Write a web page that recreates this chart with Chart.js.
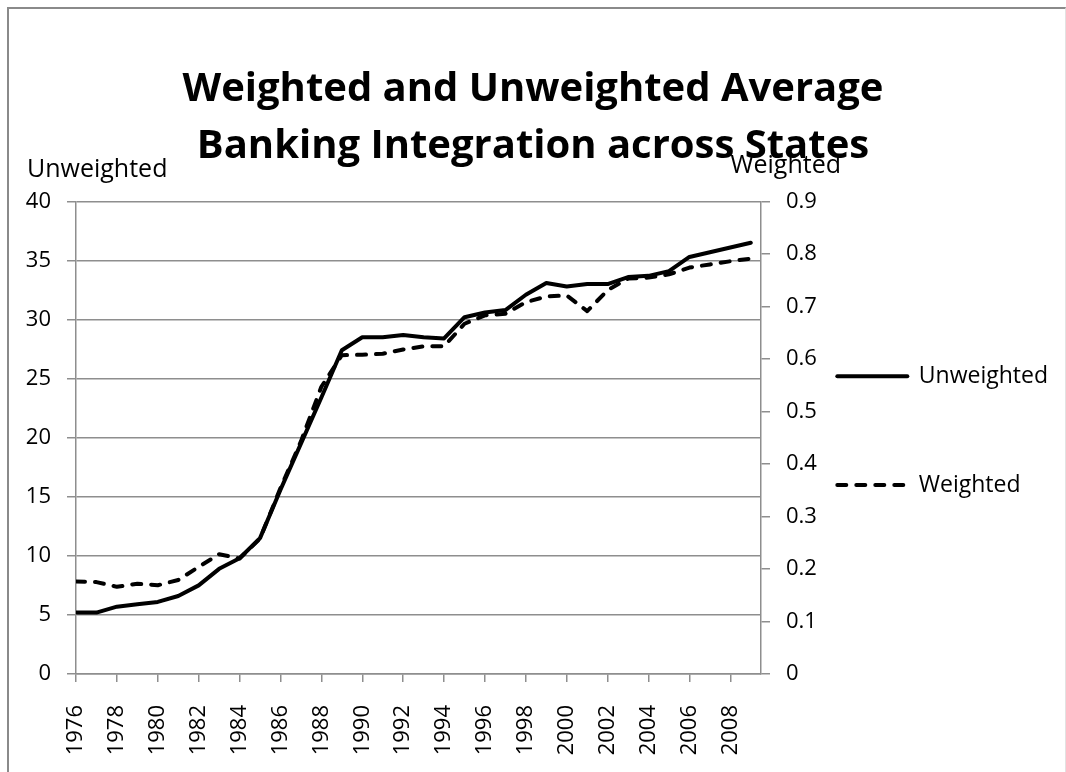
<!DOCTYPE html>
<html>
<head>
<meta charset="utf-8">
<title>Banking Integration</title>
<script src="https://cdn.jsdelivr.net/npm/chart.js@4.4.1/dist/chart.umd.min.js"></script>
<style>
  html, body { margin: 0; padding: 0; background: #fff; }
  #wrap { position: relative; width: 1066px; height: 772px; }
  #frame {
    position: absolute; left: 7px; top: 7px; width: 1056px; height: 780px;
    border-left: 2px solid #8a8a8a; border-top: 2px solid #8a8a8a; border-right: 1px solid #e2e2e2;
  }
  canvas { position: absolute; left: 0; top: 0; }
</style>
</head>
<body>
<div id="wrap">
  <div id="frame"></div>
  <canvas id="integrationChart" width="1066" height="772"></canvas>
</div>
<script>
// years on the x axis
const years = [1976, 1977, 1978, 1979, 1980, 1981, 1982, 1983, 1984, 1985,
    1986, 1987, 1988, 1989, 1990, 1991, 1992, 1993, 1994, 1995,
    1996, 1997, 1998, 1999, 2000, 2001, 2002, 2003, 2004, 2005,
    2006, 2007, 2008, 2009];

// left axis series
const unweighted = [5.2, 5.2, 5.7, 5.9, 6.1, 6.6, 7.5, 8.9, 9.8, 11.5,
    15.6, 19.5, 23.4, 27.4, 28.5, 28.5, 28.7, 28.5, 28.4, 30.2,
    30.6, 30.8, 32.1, 33.1, 32.8, 33.0, 33.0, 33.6, 33.7, 34.1,
    35.3, 35.7, 36.1, 36.5];

// right axis series
const weighted = [0.176, 0.175, 0.166, 0.172, 0.169, 0.179, 0.204, 0.228, 0.220, 0.258,
    0.354, 0.443, 0.547, 0.607, 0.608, 0.610, 0.618, 0.624, 0.624, 0.667,
    0.683, 0.686, 0.708, 0.719, 0.721, 0.691, 0.731, 0.753, 0.755, 0.761,
    0.774, 0.780, 0.786, 0.791];

const chartTitle = ['Weighted and Unweighted Average', 'Banking Integration across States'];
const leftAxisTitle = 'Unweighted';
const rightAxisTitle = 'Weighted';

const FONT = '"Open Sans", "DejaVu Sans", sans-serif';
const GRID = '#8e8e8e';

Chart.defaults.font.family = FONT;
Chart.defaults.color = '#000';

// horizontal axis titles above the two y axes
const axisTitles = {
    id: 'axisTitles',
    afterDraw(chart) {
        const { ctx, chartArea } = chart;
        ctx.save();
        ctx.font = '25px ' + FONT;
        ctx.fillStyle = '#000';
        ctx.textBaseline = 'alphabetic';
        ctx.textAlign = 'left';
        ctx.fillText(leftAxisTitle, 27, chartArea.top - 24);
        ctx.textAlign = 'right';
        ctx.fillText(rightAxisTitle, 841, chartArea.top - 28);
        ctx.restore();
    }
};

const ctx = document.getElementById('integrationChart').getContext('2d');
new Chart(ctx, {
    type: 'line',
    data: {
        datasets: [{
            label: 'Unweighted',
            data: years.map((yr, i) => ({ x: yr, y: unweighted[i] })),
            yAxisID: 'y',
            borderColor: '#000',
            borderWidth: 4,
            borderJoinStyle: 'round',
            borderCapStyle: 'round',
            pointRadius: 0,
            tension: 0,
            fill: false
        }, {
            label: 'Weighted',
            data: years.map((yr, i) => ({ x: yr, y: weighted[i] })),
            yAxisID: 'y1',
            borderColor: '#000',
            borderWidth: 4,
            borderDash: [9, 10],
            borderJoinStyle: 'round',
            borderCapStyle: 'round',
            pointRadius: 0,
            tension: 0,
            fill: false
        }]
    },
    options: {
        responsive: false,
        animation: false,
        layout: { padding: { left: 8, top: 0, right: 8, bottom: 0 } },
        plugins: {
            title: {
                display: true,
                text: chartTitle,
                font: { size: 40, weight: 'bold', lineHeight: 1.43 },
                padding: { top: 61, bottom: 26 }
            },
            legend: {
                position: 'right',
                fullSize: false,
                align: 'start',
                maxWidth: 235,
                // blank title only pushes the entries down
                title: { display: true, text: ' ', font: { size: 10, lineHeight: 1 }, padding: { top: 140, bottom: 0 } },
                labels: {
                    usePointStyle: true,
                    pointStyleWidth: 70,
                    padding: 13.3,
                    font: { size: 23 },
                    generateLabels: chart => {
                        const items = chart.data.datasets.map((ds, i) => ({
                            text: ds.label,
                            datasetIndex: i,
                            strokeStyle: '#000',
                            fillStyle: '#000',
                            fontColor: '#000',
                            lineWidth: 4,
                            lineDash: ds.borderDash || [],
                            lineCap: 'round',
                            pointStyle: 'line',
                            hidden: false
                        }));
                        // empty rows to spread the two entries apart
                        const gap = { text: '', lineWidth: 0, strokeStyle: 'rgba(0,0,0,0)', fillStyle: 'rgba(0,0,0,0)', pointStyle: 'line', hidden: false };
                        return [items[0], gap, { ...gap }, items[1]];
                    }
                }
            },
            tooltip: { enabled: false }
        },
        scales: {
            x: {
                type: 'linear',
                min: 1976,
                max: 2009.5,
                afterFit: scale => { scale.height = 98; },
                grid: { drawOnChartArea: false, color: GRID, lineWidth: 1.5, tickLength: 8 },
                border: { color: GRID, width: 1.5 },
                ticks: {
                    stepSize: 2,
                    includeBounds: false,
                    autoSkip: false,
                    minRotation: 90,
                    maxRotation: 90,
                    padding: 23,
                    font: { size: 22 },
                    callback: v => String(v)
                }
            },
            y: {
                position: 'left',
                min: 0,
                max: 40,
                afterFit: scale => { scale.width = 68; },
                grid: { color: GRID, lineWidth: 1.5, tickLength: 9 },
                border: { color: GRID, width: 1.5 },
                ticks: { stepSize: 5, padding: 16, font: { size: 22 } }
            },
            y1: {
                position: 'right',
                min: 0,
                max: 0.9,
                afterFit: scale => { scale.width = 63; },
                grid: { drawOnChartArea: false, color: GRID, lineWidth: 1.5, tickLength: 9 },
                border: { color: GRID, width: 1.5 },
                ticks: {
                    stepSize: 0.1,
                    padding: 16,
                    font: { size: 22 },
                    callback: v => String(Math.round(v * 10) / 10)
                }
            }
        }
    },
    plugins: [axisTitles]
});
</script>
</body>
</html>
